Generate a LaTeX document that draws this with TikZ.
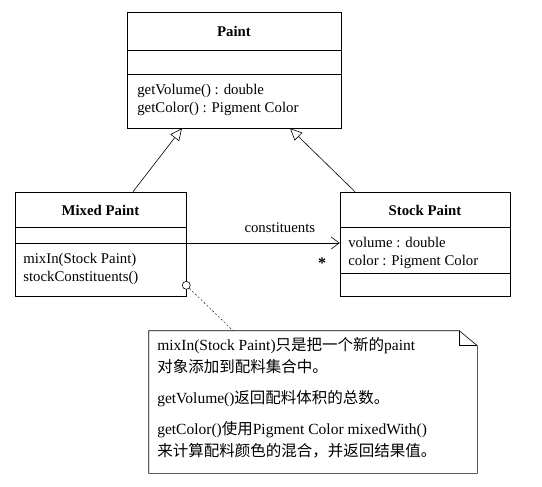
\documentclass[tikz,border=0pt]{standalone}
\usepackage{fontspec}
\setmainfont{Liberation Serif}
\newfontfamily\cjk{Noto Sans CJK SC}
\usetikzlibrary{arrows.meta,shapes}

\begin{document}
\begin{tikzpicture} [ x=1pt, y=-1pt,
		      font=\fontsize{14.8}{18}\selectfont,
		      every path/.style={line width=0.6pt},
		      classbox/.style={draw, rectangle, inner sep=0pt},
		      classname/.style={font=\fontsize{14.8}{18}\selectfont\bfseries},
		      members/.style={align=left, anchor=west, inner sep=0pt},
		      gen/.style={-{Triangle[open, length=12pt, width=11pt]}},
		      assoc/.style={-{Straight Barb[length=8pt, width=12pt]}},
%		      style={line cap=round},
		      notedash/.style={dash pattern=on 2pt off 2pt, line width=0.4pt}
		    ]
  \useasboundingbox (0,0) rectangle (542,487);

  % classes
  \node[classbox, minimum width=214pt, minimum height=116pt] (paint) at (234,70) {};
  \node[classbox, minimum width=171pt, minimum height=104pt] (mixed) at (100.5,244) {};
  \node[classbox, minimum width=170pt, minimum height=104pt] (stock) at (425,244) {};

  \draw (127,50) -- (341,50);
  \draw (127,74) -- (341,74);
  \draw (15,227) -- (186,227);
  \draw (15,243) -- (186,243);
  \draw (340,227) -- (510,227);
  \draw (340,273) -- (510,273);

  \node[classname] (paintname) at (234,31) {Paint};
  \node[members] (paintops) at (137,99.5) {getVolume() : double\\getColor() : Pigment Color};

  \node[classname] (mixedname) at (100.5,210) {Mixed Paint};
  \node[members] (mixedops) at (23,269) {mixIn(Stock Paint)\\stockConstituents()};

  \node[classname] (stockname) at (425,210) {Stock Paint};
  \node[members] (stockattrs) at (348,252.5) {volume : double\\color : Pigment Color};

  % generalization
  \draw[gen] ([xshift=32.5pt]mixed.north) -- ([xshift=-52pt]paint.south);
  \draw[gen] ([xshift=-70pt]stock.north) -- ([xshift=56pt]paint.south);

  % association
  \draw[assoc] ([yshift=1pt]mixed.east) -- ([yshift=1pt]stock.west)
    node[pos=0.61, above=7pt] (role) {constituents};
  \node[font=\fontsize{16}{18}\selectfont\bfseries] (mult) at (322,263) {*};

  % note
  \node[minimum width=328pt, minimum height=142pt, inner sep=0pt] (note) at (313,402) {};
  \draw (note.north west) -- ([xshift=-18pt]note.north east)
    -- ([yshift=-15pt]note.north east) -- (note.south east)
    -- (note.south west) -- cycle;
  \draw ([xshift=-18pt]note.north east) |- ([yshift=-15pt]note.north east);
  \node[anchor=north west, align=left, inner sep=0pt,
        font=\fontsize{15.5}{22}\selectfont] (notetext) at (157,337)
    {mixIn(Stock Paint){\cjk 只是把一个新的}paint\\
     {\cjk 对象添加到配料集合中。}\\[9pt]
     getVolume(){\cjk 返回配料体积的总数。}\\[9pt]
     getColor(){\cjk 使用}Pigment Color mixedWith()\\
     {\cjk 来计算配料颜色的混合，并返回结果值。}};

  \node[circle, draw, fill=white, minimum size=8pt, inner sep=0pt] (hook)
    at ([yshift=11pt]mixed.south east) {};
  \draw[notedash] (hook) -- ([xshift=-80pt]note.north);
\end{tikzpicture}
\end{document}
